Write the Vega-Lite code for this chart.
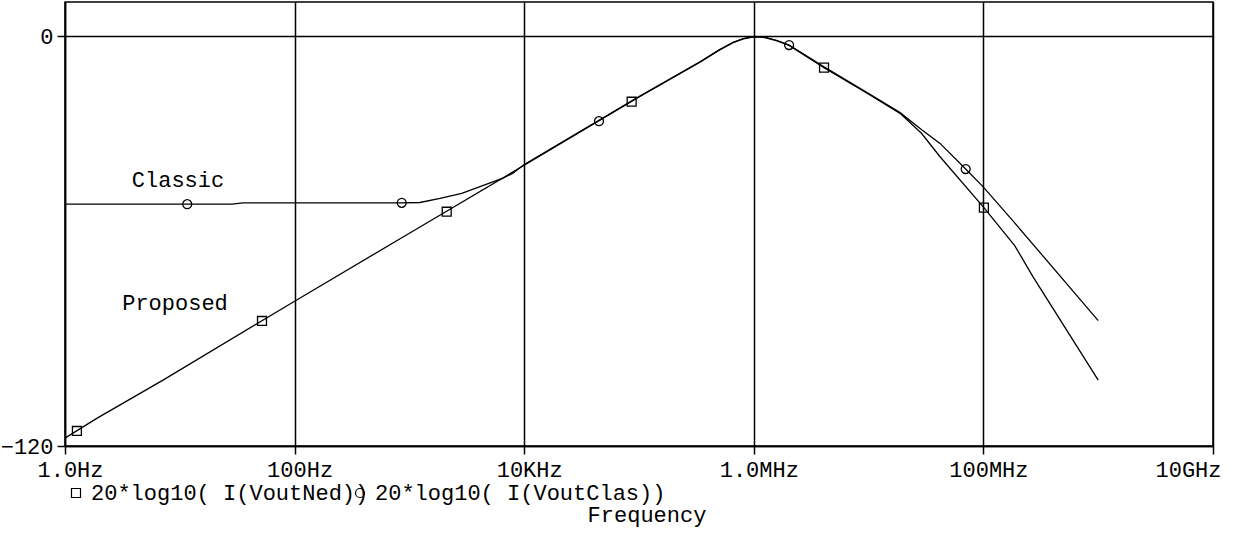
{
  "$schema": "https://vega.github.io/schema/vega-lite/v6.json",
  "width": 1148,
  "height": 444,
  "padding": {"left": 0, "top": 2, "right": 5, "bottom": 8},
  "background": "white",
  "title": {"text": "Frequency", "orient": "bottom", "anchor": "middle", "font": "Liberation Mono", "fontSize": 22, "fontWeight": "normal", "color": "black", "dx": 8, "offset": 1},
  "datasets": {
    "curves": [
      {"trace": "20*log10( I(VoutNed))", "freq": 1, "dB": -117.7},
      {"trace": "20*log10( I(VoutNed))", "freq": 1.89, "dB": -111.9},
      {"trace": "20*log10( I(VoutNed))", "freq": 7.14, "dB": -100.7},
      {"trace": "20*log10( I(VoutNed))", "freq": 100, "dB": -77.6},
      {"trace": "20*log10( I(VoutNed))", "freq": 1000, "dB": -57.7},
      {"trace": "20*log10( I(VoutNed))", "freq": 10000, "dB": -37.8},
      {"trace": "20*log10( I(VoutNed))", "freq": 100000, "dB": -17.8},
      {"trace": "20*log10( I(VoutNed))", "freq": 340000, "dB": -7.6},
      {"trace": "20*log10( I(VoutNed))", "freq": 500000, "dB": -4.1},
      {"trace": "20*log10( I(VoutNed))", "freq": 660000, "dB": -1.9},
      {"trace": "20*log10( I(VoutNed))", "freq": 810000, "dB": -0.8},
      {"trace": "20*log10( I(VoutNed))", "freq": 1000000, "dB": -0.2},
      {"trace": "20*log10( I(VoutNed))", "freq": 1250000, "dB": -0.4},
      {"trace": "20*log10( I(VoutNed))", "freq": 1600000, "dB": -1.4},
      {"trace": "20*log10( I(VoutNed))", "freq": 2030000, "dB": -2.7},
      {"trace": "20*log10( I(VoutNed))", "freq": 4090000, "dB": -9.2},
      {"trace": "20*log10( I(VoutNed))", "freq": 9700000, "dB": -16.7},
      {"trace": "20*log10( I(VoutNed))", "freq": 18800000, "dB": -22.6},
      {"trace": "20*log10( I(VoutNed))", "freq": 29000000, "dB": -28.5},
      {"trace": "20*log10( I(VoutNed))", "freq": 41900000, "dB": -35.3},
      {"trace": "20*log10( I(VoutNed))", "freq": 101000000, "dB": -50.2},
      {"trace": "20*log10( I(VoutNed))", "freq": 188000000, "dB": -61.4},
      {"trace": "20*log10( I(VoutNed))", "freq": 270000000, "dB": -70.4},
      {"trace": "20*log10( I(VoutNed))", "freq": 1000000000, "dB": -100.7},
      {"trace": "20*log10( I(VoutClas))", "freq": 1, "dB": -49.2},
      {"trace": "20*log10( I(VoutClas))", "freq": 28.5, "dB": -49.2},
      {"trace": "20*log10( I(VoutClas))", "freq": 35.5, "dB": -48.8},
      {"trace": "20*log10( I(VoutClas))", "freq": 857, "dB": -48.8},
      {"trace": "20*log10( I(VoutClas))", "freq": 1236, "dB": -48.7},
      {"trace": "20*log10( I(VoutClas))", "freq": 1849, "dB": -47.5},
      {"trace": "20*log10( I(VoutClas))", "freq": 2858, "dB": -46.0},
      {"trace": "20*log10( I(VoutClas))", "freq": 6531, "dB": -41.6},
      {"trace": "20*log10( I(VoutClas))", "freq": 7980, "dB": -40.1},
      {"trace": "20*log10( I(VoutClas))", "freq": 10000, "dB": -37.6},
      {"trace": "20*log10( I(VoutClas))", "freq": 100000, "dB": -17.7},
      {"trace": "20*log10( I(VoutClas))", "freq": 340000, "dB": -7.5},
      {"trace": "20*log10( I(VoutClas))", "freq": 500000, "dB": -4.0},
      {"trace": "20*log10( I(VoutClas))", "freq": 660000, "dB": -1.8},
      {"trace": "20*log10( I(VoutClas))", "freq": 810000, "dB": -0.7},
      {"trace": "20*log10( I(VoutClas))", "freq": 1000000, "dB": -0.1},
      {"trace": "20*log10( I(VoutClas))", "freq": 1250000, "dB": -0.3},
      {"trace": "20*log10( I(VoutClas))", "freq": 1600000, "dB": -1.3},
      {"trace": "20*log10( I(VoutClas))", "freq": 2030000, "dB": -2.6},
      {"trace": "20*log10( I(VoutClas))", "freq": 4090000, "dB": -9.0},
      {"trace": "20*log10( I(VoutClas))", "freq": 9700000, "dB": -16.5},
      {"trace": "20*log10( I(VoutClas))", "freq": 18800000, "dB": -22.4},
      {"trace": "20*log10( I(VoutClas))", "freq": 29000000, "dB": -27.4},
      {"trace": "20*log10( I(VoutClas))", "freq": 41900000, "dB": -31.4},
      {"trace": "20*log10( I(VoutClas))", "freq": 70100000, "dB": -38.9},
      {"trace": "20*log10( I(VoutClas))", "freq": 100000000, "dB": -44.2},
      {"trace": "20*log10( I(VoutClas))", "freq": 177000000, "dB": -53.7},
      {"trace": "20*log10( I(VoutClas))", "freq": 1000000000, "dB": -83.3}
    ],
    "markers": [
      {"trace": "20*log10( I(VoutNed))", "freq": 1.27, "dB": -115.6},
      {"trace": "20*log10( I(VoutNed))", "freq": 52, "dB": -83.4},
      {"trace": "20*log10( I(VoutNed))", "freq": 2113, "dB": -51.4},
      {"trace": "20*log10( I(VoutNed))", "freq": 86300, "dB": -19.2},
      {"trace": "20*log10( I(VoutNed))", "freq": 4090000, "dB": -9.2},
      {"trace": "20*log10( I(VoutNed))", "freq": 101000000, "dB": -50.2},
      {"trace": "20*log10( I(VoutClas))", "freq": 11.6, "dB": -49.2},
      {"trace": "20*log10( I(VoutClas))", "freq": 857, "dB": -48.8},
      {"trace": "20*log10( I(VoutClas))", "freq": 44800, "dB": -24.9},
      {"trace": "20*log10( I(VoutClas))", "freq": 2030000, "dB": -2.6},
      {"trace": "20*log10( I(VoutClas))", "freq": 70100000, "dB": -38.9}
    ],
    "labels": [
      {"label": "Classic", "freq": 9.64, "dB": -42.2},
      {"label": "Proposed", "freq": 9.08, "dB": -78.0}
    ]
  },
  "layer": [
    {
      "data": {"name": "curves"},
      "mark": {"type": "line", "color": "black", "strokeWidth": 1.3},
      "encoding": {
        "x": {
          "field": "freq", "type": "quantitative",
          "scale": {"type": "log", "domain": [1, 10000000000], "nice": false},
          "axis": {
            "title": null,
            "values": [1, 100, 10000, 1000000, 100000000, 10000000000],
            "labelExpr": "datum.value < 10 ? '1.0Hz' : datum.value < 1000 ? '100Hz' : datum.value < 100000 ? '10KHz' : datum.value < 10000000 ? '1.0MHz' : datum.value < 1000000000 ? '100MHz' : '10GHz'",
            "labelAlign": {"condition": {"test": "datum.value > 1000000000", "value": "right"}, "value": "center"},
            "labelOffset": {"condition": {"test": "datum.value > 1000000000", "value": 8}, "value": 5},
            "labelPadding": 5,
            "labelOverlap": false,
            "labelFlush": false,
            "grid": true
          }
        },
        "y": {
          "field": "dB", "type": "quantitative",
          "scale": {"domain": [-120, 10], "nice": false, "zero": false},
          "axis": {"title": null, "values": [-120, 0], "labelPadding": 4, "grid": true}
        },
        "detail": {"field": "trace"}
      }
    },
    {
      "data": {"name": "markers"},
      "mark": {"type": "point", "filled": false, "color": "black", "strokeWidth": 1.3, "size": 80, "opacity": 1},
      "encoding": {
        "x": {"field": "freq", "type": "quantitative"},
        "y": {"field": "dB", "type": "quantitative"},
        "shape": {
          "field": "trace", "type": "nominal",
          "scale": {"domain": ["20*log10( I(VoutNed))", "20*log10( I(VoutClas))"], "range": ["square", "circle"]},
          "legend": {
            "title": null, "orient": "bottom", "direction": "horizontal",
            "labelFont": "Liberation Mono", "labelFontSize": 22, "labelColor": "black", "labelLimit": 1000,
            "symbolSize": 81, "symbolStrokeColor": "black", "symbolFillColor": "transparent", "symbolStrokeWidth": 1.2,
            "labelOffset": 4, "columnPadding": -20, "gridAlign": "none", "offset": 2, "padding": 0
          }
        }
      }
    },
    {
      "data": {"name": "labels"},
      "mark": {"type": "text", "font": "Liberation Mono", "fontSize": 22, "color": "black", "align": "center", "baseline": "middle"},
      "encoding": {
        "x": {"field": "freq", "type": "quantitative"},
        "y": {"field": "dB", "type": "quantitative"},
        "text": {"field": "label"}
      }
    }
  ],
  "config": {
    "view": {"stroke": "black", "strokeWidth": 1.5},
    "axis": {
      "labelFont": "Liberation Mono", "labelFontSize": 22, "labelColor": "black",
      "domainColor": "black", "domainWidth": 1.5, "tickColor": "black", "tickSize": 8, "tickWidth": 1.5,
      "gridColor": "black", "gridWidth": 1.5, "gridOpacity": 1
    }
  }
}
